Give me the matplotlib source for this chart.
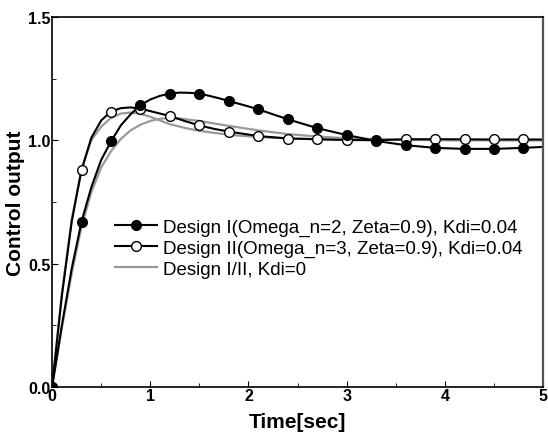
import matplotlib
matplotlib.use('Agg')
import matplotlib.pyplot as plt
from matplotlib.ticker import MultipleLocator

plt.rcParams['font.family'] = ['Liberation Sans', 'DejaVu Sans']

# marker samples (every 0.3 s)
t_mark = [0.0, 0.3, 0.6, 0.9, 1.2, 1.5, 1.8, 2.1, 2.4, 2.7, 3.0, 3.3, 3.6, 3.9, 4.2, 4.5, 4.8]
y1_mark = [0.0, 0.67, 0.995, 1.142, 1.189, 1.189, 1.159, 1.125, 1.085, 1.049, 1.021, 0.997,
           0.98, 0.969, 0.965, 0.965, 0.969]
y2_mark = [0.0, 0.88, 1.116, 1.128, 1.098, 1.06, 1.035, 1.017, 1.007, 1.004, 1.001, 1.0,
           1.004, 1.004, 1.003, 1.003, 1.003]

# line samples
t1_line = [0.0, 0.1, 0.2, 0.3, 0.4, 0.5, 0.6, 0.7, 0.8, 0.9, 1.0, 1.1, 1.2, 1.3, 1.4, 1.5,
           1.6, 1.7, 1.8, 1.9, 2.0, 2.1, 2.4, 2.7, 3.0, 3.3, 3.6, 3.9, 4.2, 4.5, 4.8, 5.0]
y1_line = [0.0, 0.25, 0.48, 0.67, 0.81, 0.92, 0.995, 1.06, 1.105, 1.142, 1.165, 1.18, 1.189,
           1.193, 1.192, 1.189, 1.18, 1.17, 1.159, 1.148, 1.137, 1.125, 1.085, 1.049, 1.021,
           0.997, 0.98, 0.969, 0.965, 0.965, 0.969, 0.973]
t2_line = [0.0, 0.1, 0.2, 0.3, 0.4, 0.5, 0.6, 0.7, 0.8, 0.9, 1.0, 1.1, 1.2, 1.35, 1.5, 1.65,
           1.8, 2.1, 2.4, 2.7, 3.0, 3.3, 3.6, 4.0, 4.5, 5.0]
y2_line = [0.0, 0.37, 0.67, 0.88, 1.01, 1.08, 1.116, 1.13, 1.133, 1.128, 1.118, 1.108, 1.098,
           1.078, 1.06, 1.046, 1.035, 1.017, 1.007, 1.004, 1.001, 1.0, 1.004, 1.004, 1.003, 1.003]

# Kdi = 0 curves (gray)
tA = [0.0, 0.1, 0.2, 0.3, 0.4, 0.5, 0.6, 0.7, 0.8, 0.9, 1.0, 1.1, 1.2, 1.35, 1.5, 1.8, 2.1,
      2.4, 2.7, 3.0, 5.0]
yA = [0.0, 0.38, 0.68, 0.88, 1.0, 1.055, 1.09, 1.108, 1.112, 1.107, 1.095, 1.08, 1.065, 1.05,
      1.038, 1.022, 1.013, 1.008, 1.004, 1.002, 1.0]
tB = [0.0, 0.1, 0.2, 0.3, 0.4, 0.5, 0.6, 0.7, 0.8, 0.9, 1.0, 1.1, 1.2, 1.3, 1.5, 1.8, 2.1,
      2.4, 2.7, 3.0, 3.5, 4.0, 5.0]
yB = [0.0, 0.24, 0.46, 0.65, 0.79, 0.89, 0.955, 1.005, 1.04, 1.063, 1.078, 1.087, 1.09, 1.088,
      1.078, 1.058, 1.04, 1.025, 1.015, 1.008, 1.002, 1.0, 1.0]

fig = plt.figure(figsize=(5.48, 4.35), dpi=100)
ax = fig.add_axes([0.095, 0.108, 0.896, 0.851])

gray = '#999999'
ax.plot(tA, yA, color=gray, lw=1.6)
ax.plot(tB, yB, color=gray, lw=1.6)
ax.plot(t2_line, y2_line, color='black', lw=1.5)
ax.plot(t1_line, y1_line, color='black', lw=1.5)
# open markers first so the filled ones sit on top where they overlap
ax.plot(t_mark, y2_mark, ls='none', marker='o', ms=7, mfc='white', mec='black', mew=1)
ax.plot(t_mark, y1_mark, ls='none', marker='o', ms=7, mfc='black', mec='black', mew=1)

# legend proxies
h1, = ax.plot([], [], color='black', lw=1.5, marker='o', ms=7, mfc='black',
              label='Design I(Omega_n=2, Zeta=0.9), Kdi=0.04')
h2, = ax.plot([], [], color='black', lw=1.5, marker='o', ms=7, mfc='white',
              label='Design II(Omega_n=3, Zeta=0.9), Kdi=0.04')
h3, = ax.plot([], [], color=gray, lw=1.6, label='Design I/II, Kdi=0')
ax.legend(handles=[h1, h2, h3], loc='upper left', bbox_to_anchor=(0.128, 0.455),
          frameon=False, fontsize=13.5, handlelength=2.24, handletextpad=0.32,
          labelspacing=0.2, borderaxespad=0, borderpad=0)

ax.set_xlim(0, 5)
ax.set_ylim(0, 1.5)
ax.xaxis.set_major_locator(MultipleLocator(1))
ax.xaxis.set_minor_locator(MultipleLocator(0.5))
ax.yaxis.set_major_locator(MultipleLocator(0.5))
ax.yaxis.set_minor_locator(MultipleLocator(0.25))
ax.set_yticklabels([f'{v:.1f}' for v in ax.get_yticks()])
ax.tick_params(which='both', direction='in', top=False, right=False, labelsize=11.5)
ax.tick_params(which='major', length=4)
ax.tick_params(which='minor', length=3)
for lab in ax.get_xticklabels() + ax.get_yticklabels():
    lab.set_fontweight('bold')
ax.tick_params(axis='x', pad=1)
ax.tick_params(axis='y', pad=1)
for s in ax.spines.values():
    s.set_linewidth(1.2)
ax.spines['right'].set_color('#555555')
ax.spines['right'].set_linewidth(1.6)

ax.set_xlabel('Time[sec]', fontsize=15, fontweight='bold', labelpad=6)
ax.set_ylabel('Control output', fontsize=15, fontweight='bold', labelpad=2)

fig.savefig('out.png', dpi=100)
